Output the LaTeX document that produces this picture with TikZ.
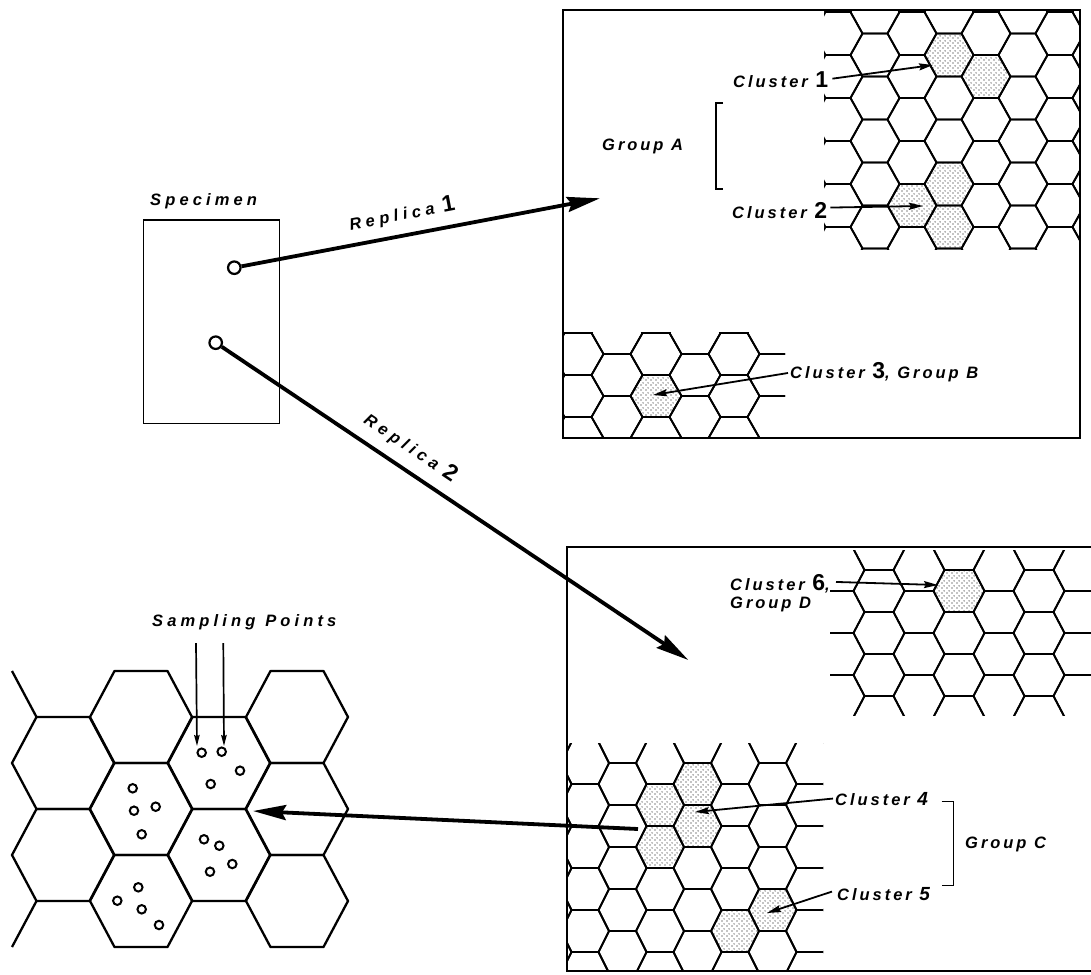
\documentclass[tikz,border=0pt]{standalone}
\usepackage{fontspec}
\newfontfamily\labf[LetterSpace=18]{Liberation Sans}
\newfontfamily\labw[LetterSpace=25]{Liberation Sans}
\newfontfamily\labr[LetterSpace=28]{Liberation Sans}
\usetikzlibrary{arrows.meta,patterns.meta}
\tikzdeclarepattern{
  name=stipple, type=uncolored,
  bottom left={(0pt,0pt)}, top right={(4.5pt,4.5pt)},
  tile size={(4.5pt,4.5pt)},
  code={\pgfpathcircle{\pgfpoint{1.1pt}{1.1pt}}{0.65pt}\pgfpathcircle{\pgfpoint{3.35pt}{3.35pt}}{0.65pt}\pgfusepath{fill}}
}
\newcommand\hexp[5]{({#1-#3},{#2}) -- ({#1-#4},{#2-#5}) -- ({#1+#4},{#2-#5}) -- ({#1+#3},{#2}) -- ({#1+#4},{#2+#5}) -- ({#1-#4},{#2+#5}) -- cycle}
\newcommand\bignum[1]{{\fontsize{23}{23}\selectfont\upshape #1}}
\newcommand\midnum[1]{{\fontsize{19}{19}\selectfont #1}}
\begin{document}
\begin{tikzpicture}[x=1pt,y=-1pt,
  hexline/.style={line width=1.8pt, line join=round},
  hexbig/.style={line width=2.3pt, line join=round},
  panel/.style={line width=1.2pt},
  lab/.style={font=\labf\bfseries\itshape\fontsize{16.5}{19}\selectfont, inner sep=0pt},
  labwide/.style={font=\labw\bfseries\itshape\fontsize{16.5}{19}\selectfont, inner sep=0pt},
  labrep/.style={font=\labr\bfseries\itshape\fontsize{16.5}{19}\selectfont, inner sep=0pt},
  ptr/.style={line width=1.8pt, -{Stealth[length=14pt,width=7pt,inset=2pt]}},
  bigarrow/.style={line width=3.8pt, -{Stealth[length=33pt,width=15pt,inset=4pt]}},
  smallarrow/.style={line width=1.7pt, -{Stealth[length=11pt,width=5.5pt,inset=1.5pt]}},
  repring/.style={circle, draw, line width=2.2pt, minimum size=12.5pt, inner sep=0pt},
  spt/.style={circle, draw, line width=2pt, minimum size=8.5pt, inner sep=0pt},
  stippled/.style={pattern={stipple}, pattern color=black},
  bracketline/.style={line width=1.4pt}
]
\useasboundingbox (0,0) rectangle (1091,974);
\clip (0,0) rectangle (1091,974);
\fill[white] (0,0) rectangle (1091,974);

% ---------- panels ----------
\draw[panel] (563,10) rectangle (1080,438);
\draw[panel] (1100,547) -- (567,547) -- (567,971) -- (1100,971);
\draw[panel] (143.3,220) rectangle (279.3,423.3);

% ---------- top panel, upper right grid ----------
\fill[stippled] \hexp{949}{55}{24.5}{12.5}{21.5};
\fill[stippled] \hexp{986}{76.5}{24.5}{12.5}{21.5};
\fill[stippled] \hexp{949}{184}{24.5}{12.5}{21.5};
\fill[stippled] \hexp{912}{205.5}{24.5}{12.5}{21.5};
\fill[stippled] \hexp{949}{227}{24.5}{12.5}{21.5};
\begin{scope}
  \clip (824,10) rectangle (1080,249);
  \foreach \k in {-1,...,6}{
    \foreach \j in {-1,...,6}{
      \pgfmathsetmacro\cx{875+37*\k}
      \pgfmathsetmacro\cy{12+43*\j+21.5*mod(\k+10,2)}
      \draw[hexline] \hexp{\cx}{\cy}{24.5}{12.5}{21.5};
    }
  }
\end{scope}

% ---------- top panel, lower left grid ----------
\fill[stippled] \hexp{656}{396}{25.5}{13.5}{21};
\begin{scope}
  \clip (563,332) rectangle (785,438);
  \foreach \k in {-1,...,6}{
    \foreach \j in {-1,...,3}{
      \pgfmathsetmacro\cx{578+39*\k}
      \pgfmathsetmacro\cy{354+42*\j-21*mod(\k+10,2)}
      \draw[hexline] \hexp{\cx}{\cy}{25.5}{13.5}{21};
    }
  }
\end{scope}

% ---------- bottom panel, upper right grid ----------
\fill[stippled] \hexp{959}{591}{25.5}{14.5}{21};
\begin{scope}
  \clip (830,550) rectangle (1091,715.5);
  \foreach \k in {-1,...,6}{
    \foreach \j in {-1,...,4}{
      \pgfmathsetmacro\cx{879+40*\k}
      \pgfmathsetmacro\cy{591+42*\j-21*mod(\k+10,2)}
      \draw[hexline] \hexp{\cx}{\cy}{25.5}{14.5}{21};
    }
  }
\end{scope}

% ---------- bottom panel, lower left grid ----------
\fill[stippled] \hexp{697.5}{784}{24}{13.5}{21};
\fill[stippled] \hexp{660}{805}{24}{13.5}{21};
\fill[stippled] \hexp{697.5}{826}{24}{13.5}{21};
\fill[stippled] \hexp{660}{847}{24}{13.5}{21};
\fill[stippled] \hexp{772.5}{910}{24}{13.5}{21};
\fill[stippled] \hexp{735}{931}{24}{13.5}{21};
\begin{scope}
  \clip (567,743) rectangle (823,971);
  \foreach \k in {-1,...,7}{
    \foreach \j in {-1,...,6}{
      \pgfmathsetmacro\cx{585+37.5*\k}
      \pgfmathsetmacro\cy{763+42*\j+21*mod(\k+10,2)}
      \draw[hexline] \hexp{\cx}{\cy}{24}{13.5}{21};
    }
  }
\end{scope}

% ---------- sampling grid ----------
\foreach \cx/\cy in {63/763,63/855,141/717,141/809,141/901,219/763,219/855,297/717,297/809,297/901}
  \draw[hexbig] \hexp{\cx}{\cy}{51}{26.5}{46};
\draw[hexbig] (36.5,717) -- (12,671);
\draw[hexbig] (36.5,901) -- (12,947);

\node[spt] (sp1) at (201.7,752.7) {};
\node[spt] (sp2) at (221.7,751.7) {};
\node[spt] (sp3) at (240,770.7) {};
\node[spt] (sp4) at (210.7,784) {};
\node[spt] (sp5) at (132.7,788.3) {};
\node[spt] (sp6) at (134,810.7) {};
\node[spt] (sp7) at (155.7,806.7) {};
\node[spt] (sp8) at (141.7,834.3) {};
\node[spt] (sp9) at (204,839.3) {};
\node[spt] (sp10) at (219.3,845.7) {};
\node[spt] (sp11) at (232.3,864) {};
\node[spt] (sp12) at (210,871.7) {};
\node[spt] (sp13) at (138.3,887.3) {};
\node[spt] (sp14) at (117.3,900.7) {};
\node[spt] (sp15) at (141.7,909.3) {};
\node[spt] (sp16) at (159,925) {};

\node[labwide, anchor=base west] (samp) at (152,626) {Sampling\hspace{10pt}Points};
\coordinate (sa1) at (196,643);
\coordinate (sa1t) at (197,746);
\coordinate (sa2) at (223.3,643);
\coordinate (sa2t) at (224,746);
\draw[smallarrow] (sa1) -- (sa1t);
\draw[smallarrow] (sa2) -- (sa2t);

% ---------- specimen and replicas ----------
\node[labwide, anchor=base west] (spec) at (150,205) {Specimen};
\node[repring] (r1) at (234.3,267.7) {};
\node[repring] (r2) at (215.7,342.7) {};
\coordinate (r1tip) at (600,198.3);
\coordinate (r2tip) at (688.3,660);
\draw[bigarrow] (r1) -- (r1tip);
\draw[bigarrow] (r2) -- (r2tip);
\node[labrep, rotate=10.8] (rep1) at (402,214) {Replica\hspace{8pt}\bignum{1}};
\node[labrep, rotate=-33.9] (rep2) at (411,447) {Replica\hspace{8pt}\bignum{2}};

\coordinate (sstart) at (638,829);
\coordinate (stip) at (253,811);
\draw[bigarrow] (sstart) -- (stip);

% ---------- top panel labels ----------
\node[lab, anchor=base west] (c1lab) at (733,87.5) {Cluster \bignum{1}};
\coordinate (c1tip) at (933,65);
\draw[ptr] ([xshift=4pt,yshift=1pt]c1lab.east) -- (c1tip);

\node[lab, anchor=base west] (galab) at (602,150) {Group A};
\draw[bracketline] (723,103) -- (716,103) -- (716,189) -- (723,189);

\node[lab, anchor=base west] (c2lab) at (732,218.5) {Cluster \bignum{2}};
\coordinate (c2tip) at (923,206);
\draw[ptr] ([xshift=3pt,yshift=3pt]c2lab.east) -- (c2tip);

\node[lab, anchor=base west] (c3lab) at (790,378.3) {Cluster \bignum{3}, Group B};
\coordinate (c3tip) at (653,395);
\draw[ptr] ([xshift=-2pt,yshift=-1pt]c3lab.west) -- (c3tip);

% ---------- bottom panel labels ----------
\node[lab, anchor=base west] (c6lab) at (730,590.7) {Cluster \bignum{6},};
\node[lab, anchor=base west] (gdlab) at (730,608) {Group D};
\coordinate (c6tip) at (938,585);
\draw[ptr] ([xshift=6pt,yshift=2pt]c6lab.east) -- (c6tip);

\node[lab, anchor=base west] (c4lab) at (835,805) {Cluster \midnum{4}};
\coordinate (c4tip) at (695,812);
\draw[ptr] ([xshift=-2pt]c4lab.west) -- (c4tip);

\node[lab, anchor=base west] (gclab) at (965,848) {Group C};
\draw[bracketline] (941.7,801.7) -- (953.3,801.7) -- (953.3,885.7) -- (941.7,885.7);

\node[lab, anchor=base west] (c5lab) at (837,900) {Cluster \midnum{5}};
\coordinate (c5tip) at (767,913);
\draw[ptr] ([xshift=-5pt,yshift=2pt]c5lab.west) -- (c5tip);
\end{tikzpicture}
\end{document}
